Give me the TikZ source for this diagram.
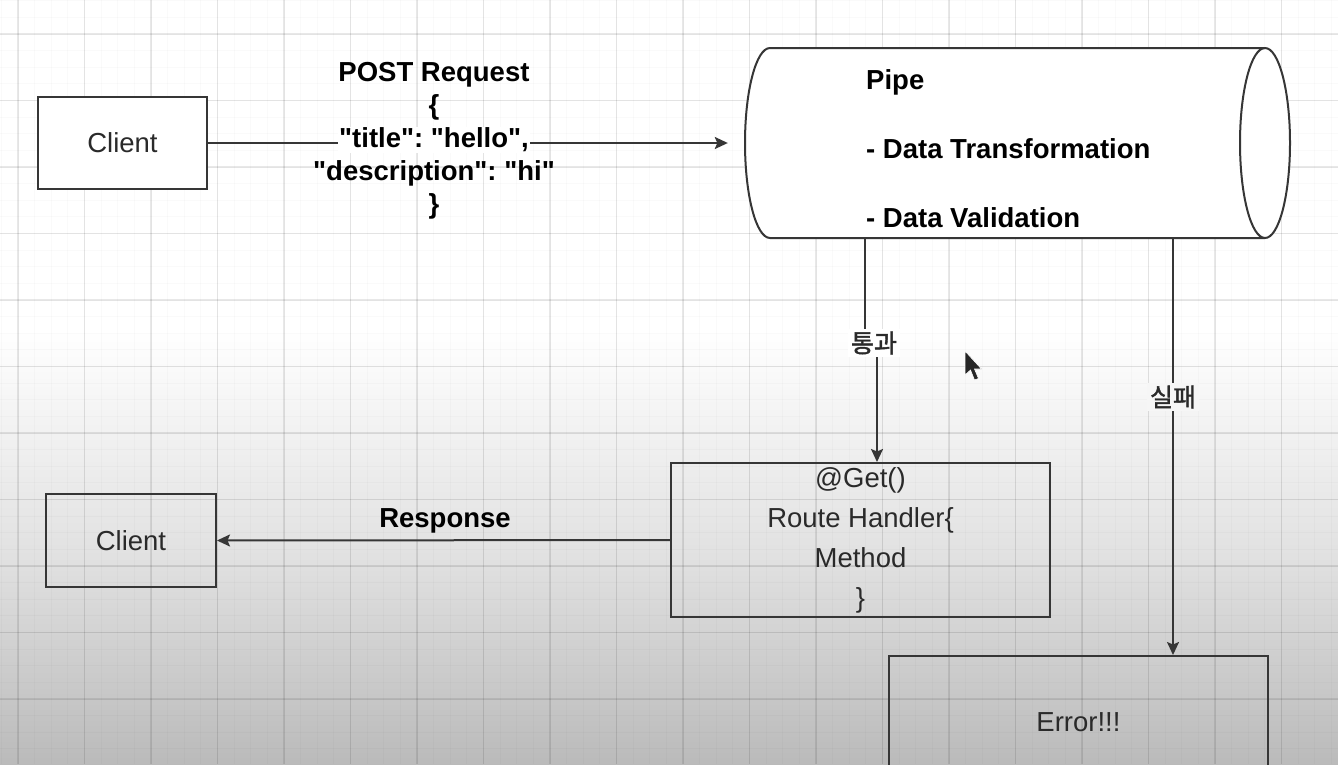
\documentclass[tikz,border=0pt]{standalone}
\usepackage{fontspec}
\setmainfont{Liberation Sans}
\newfontfamily\jsonfont{Liberation Sans}
\newfontfamily\krfont{Noto Sans CJK KR}[FakeBold=1.6]
\usetikzlibrary{arrows.meta}
\frenchspacing
\definecolor{edgecol}{HTML}{363636}
\definecolor{txtgray}{HTML}{2A2A2A}
\tikzset{
  boxnode/.style={draw=edgecol, line width=2pt, inner sep=0pt, text=txtgray, font=\fontsize{27.5}{40}\selectfont},
  conn/.style={draw=edgecol, line width=2pt, -{Stealth[length=13pt,width=12pt,inset=2.5pt]}},
  boldlbl/.style={inner sep=0pt, text=black, font=\fontsize{27.5}{33}\bfseries\selectfont},
  krlbl/.style={inner sep=3pt, text=txtgray, font=\krfont\fontsize{25}{28}\selectfont},
  majorgrid/.style={draw=black, draw opacity=0.09, line width=1.3pt},
  minorgrid/.style={draw=black, draw opacity=0.018, line width=1pt},
}
\begin{document}
\begin{tikzpicture}[x=1pt,y=-1pt]
\useasboundingbox (0,0) rectangle (1338,764);
\clip (0,0) rectangle (1338,764);
% background
\fill[white] (0,0) rectangle (1338,764);
\shade[top color=white, bottom color=black!12] (0,330) rectangle (1338,560.5);
\shade[top color=black!12, bottom color=black!27] (0,560) rectangle (1338,765);
% grid
\foreach \i in {0,...,81} { \draw[minorgrid] ({1.375+16.625*\i},0) -- ({1.375+16.625*\i},764); }
\foreach \j in {0,...,46} { \draw[minorgrid] (0,{0.75+16.625*\j}) -- (1338,{0.75+16.625*\j}); }
\foreach \i in {0,...,19} { \draw[majorgrid] ({18+66.5*\i},0) -- ({18+66.5*\i},764); }
\foreach \j in {0,...,11} { \draw[majorgrid] (0,{34+66.5*\j}) -- (1338,{34+66.5*\j}); }

% pipe (cylinder)
\draw[edgecol, line width=2pt, fill=white] (1265,48) -- (770,48)
  arc[start angle=90, end angle=270, x radius=25pt, y radius=95pt] -- (1265,238)
  arc[start angle=-90, end angle=90, x radius=25pt, y radius=95pt] -- cycle;
\draw[edgecol, line width=2pt] (1265,48) arc[start angle=90, end angle=270, x radius=25pt, y radius=95pt];
\node[minimum width=545pt, minimum height=190pt, inner sep=0pt] (pipe) at (1017.5,143) {};
\node[boldlbl, anchor=west, align=left, font=\fontsize{27.5}{69}\bfseries\selectfont] (pipetext) at (866,149)
  {Pipe\\- Data Transformation\\- Data Validation};

% boxes
\node[boxnode, fill=white, minimum width=169pt, minimum height=92pt] (client1) at (122.5,143) {Client};
\node[boxnode, minimum width=170pt, minimum height=93pt] (client2) at (131,540.5) {Client};
\node[boxnode, align=center, minimum width=379pt, minimum height=154pt] (handler) at (860.5,540)
  {@Get()\\Route Handler\{\\Method\\\}};
\node[boxnode, minimum width=379pt, minimum height=132pt] (err) at (1078.5,722) {Error!!!};

% connectors
\draw[conn] (client1.east) -- ([xshift=-17pt]pipe.west);
\draw[conn] ([xshift=-152.5pt]pipe.south) -- ++(0,105) -| ([xshift=16.5pt]handler.north);
\draw[conn] ([xshift=155.5pt]pipe.south) -- ([xshift=94.5pt]err.north);
\draw[conn] (handler.west) -- (client2.east);

% labels
\node[boldlbl, align=center, font=\jsonfont\fontsize{27.5}{33}\bfseries\selectfont] (req) at (434,141)
  {POST Request\\\{\\{\fboxsep=1pt\colorbox{white}{"title": "hello",}}\\"description": "hi"\\\}};
\node[krlbl, fill=white] (pass) at (874,343) {통과};
\node[krlbl, fill=black!3.5] (fail) at (1173,397) {실패};
\node[boldlbl] (resp) at (445,521) {Response};

% mouse pointer
\fill[black!85, draw=white, line width=0.6pt] (965,351) -- (965,375) -- (970.5,370) -- (974.5,380) -- (978.5,378.5) -- (974.5,369) -- (981.5,369) -- cycle;
\end{tikzpicture}
\end{document}
